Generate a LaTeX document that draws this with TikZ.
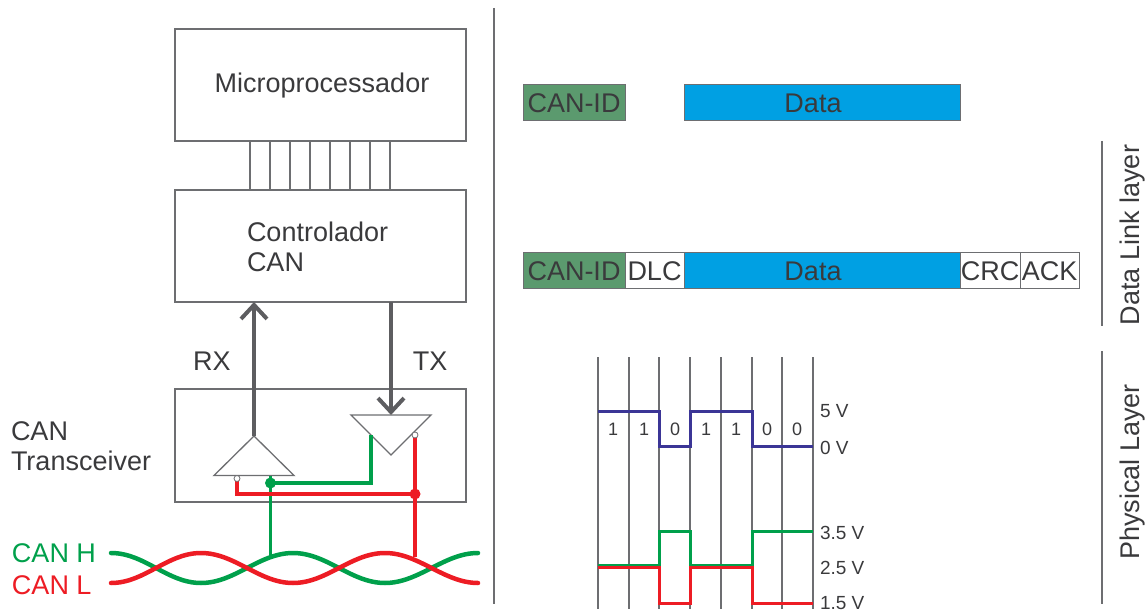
\documentclass[tikz,border=0pt]{standalone}
\usepackage{fontspec}
\usepackage{xcolor}
\usepackage{tikz}
\usetikzlibrary{positioning,arrows.meta}
\setmainfont{Liberation Sans}
\definecolor{textcolor}{HTML}{3a3a3c}
\definecolor{linecolor}{HTML}{6d6e71}
\definecolor{idcolor}{HTML}{5b9a6e}
\definecolor{datacolor}{HTML}{00a0e3}
\definecolor{canhcolor}{HTML}{00a04b}
\definecolor{canlcolor}{HTML}{ed1c24}
\definecolor{logiccolor}{HTML}{3b3596}

\begin{document}
\begin{tikzpicture}[
    x=1pt, y=-1pt,
    every node/.style={inner sep=0pt, outer sep=0pt, text=textcolor,
                       font=\fontsize{27}{30}\selectfont},
    block/.style={rectangle, draw=linecolor, line width=1.2pt,
                  minimum width=291pt, minimum height=112pt},
    field/.style={rectangle, draw=linecolor, line width=1pt,
                  minimum height=36pt},
    idfield/.style={field, fill=idcolor, minimum width=102pt},
    datafield/.style={field, fill=datacolor, minimum width=276pt},
    small/.style={font=\fontsize{19}{22}\selectfont},
    bit/.style={font=\fontsize{18}{20}\selectfont},
    rule/.style={draw=linecolor, line width=1.3pt},
    signal/.style={draw=linecolor!85!black, line width=4pt,
                   -{Straight Barb[length=14pt,width=26pt]}},
    canh/.style={draw=canhcolor, line width=3.5pt},
    canl/.style={draw=canlcolor, line width=3.5pt},
    twist/.style={line width=4.5pt, line cap=round},
    wave/.style={line width=3pt}
]
\useasboundingbox (0,0) rectangle (1148,612);

% left side
\node[block] (micro) at (320.5,85) {};
\node at (322,86) {Microprocessador};
\node[block] (ctrl) at (320.5,246) {};
\node[anchor=west, align=left] at (247,246.5) {Controlador\\CAN};
\node[block, minimum height=113pt] (trans) at (320.5,445.5) {};
\node[anchor=west, align=left] (transtext) at (11,446) {CAN\\Transceiver};

\foreach \x in {250,270,290,310,330,350,370,390}
    \draw[rule] (\x,141) -- (\x,190);

\coordinate (rxtip) at (254,436);
\coordinate (rxleft) at (214,475.5);
\coordinate (rxright) at (294,475.5);
\coordinate (txtip) at (391,455);
\coordinate (txleft) at (351,415);
\coordinate (txright) at (431,415);
\draw[rule, fill=white] (rxtip) -- (rxleft) -- (rxright) -- cycle;
\draw[rule, fill=white] (txtip) -- (txleft) -- (txright) -- cycle;

\draw[signal] (rxtip) -- (rxtip |- ctrl.south);
\draw[signal] (ctrl.south -| txtip) -- (txleft -| txtip);
\node (rx) at (212,361) {RX};
\node (tx) at (430,361) {TX};

% twisted pair
\node[anchor=west, text=canhcolor] (hlabel) at (12,553) {CAN H};
\node[anchor=west, text=canlcolor] (llabel) at (12,585) {CAN L};
\draw[twist, canhcolor] (111,553) .. controls (145,553) and (167,583) .. (201,583)
    .. controls (235,583) and (259,553) .. (293,553)
    .. controls (327,553) and (351,583) .. (385,583)
    .. controls (419,583) and (444,553) .. (478,553);
\draw[twist, canlcolor] (111,583) .. controls (145,583) and (167,553) .. (201,553)
    .. controls (235,553) and (259,583) .. (293,583)
    .. controls (327,583) and (351,553) .. (385,553)
    .. controls (419,553) and (444,583) .. (478,583);

\coordinate (hjoin) at (270.5,483);
\coordinate (hbus) at (270.5,556);
\coordinate (ljoin) at (415,494);
\coordinate (lbus) at (415,557);
\coordinate (rxminus) at (237,478.5);
\coordinate (txminus) at (415,435);
\coordinate (txplus) at (371,435);

\draw[canh] (txplus) |- (hjoin);
\draw[canh] (hjoin |- rxright) -- (hbus);
\draw[canl] (rxminus) |- (ljoin);
\draw[canl] (txminus) -- (lbus);
\fill[canhcolor] (hjoin) circle (5.5pt);
\fill[canlcolor] (ljoin) circle (5.5pt);
\draw[rule, line width=.8pt, fill=white] (rxminus) circle (3pt);
\draw[rule, line width=.8pt, fill=white] (txminus) circle (3pt);

\draw[rule] (494,8) -- (494,604);

% frame
\node[idfield] (id1) at (574,103) {CAN-ID};
\node[datafield, right=59pt of id1] (data1) {};
\node[xshift=-9pt] (datatext1) at (data1) {Data};
\node[idfield] (id2) at (574,271) {CAN-ID};
\node[field, minimum width=59pt, fill=white, right=0pt of id2] (dlc) {DLC};
\node[datafield, right=0pt of dlc] (data2) {};
\node[xshift=-9pt] (datatext2) at (data2) {Data};
\node[field, minimum width=60pt, fill=white, right=0pt of data2] (crc) {CRC};
\node[field, minimum width=59pt, fill=white, right=0pt of crc] (ack) {ACK};

\draw[rule] (1102,141) -- (1102,326);
\draw[rule] (1102,351) -- (1102,604);
\node[rotate=90] (linklayer) at (1133,235) {Data Link layer};
\node[rotate=90] (physlayer) at (1133,472) {Physical Layer};

% bit timing
\foreach \x in {598,629,659,690,721,752,782,813}
    \draw[rule] (\x,357) -- (\x,609);
\foreach \x/\b in {613/1,644/1,675/0,706/1,736/1,767/0,797/0}
    \node[bit] at (\x,429) {\b};
\draw[wave, logiccolor] (598,411) -- (659,411) -- (659,446) -- (690,446) -- (690,411)
    -- (752,411) -- (752,446) -- (813,446);
\draw[wave, canhcolor] (598,565.5) -- (659,565.5) -- (659,531) -- (690,531) -- (690,565.5)
    -- (752,565.5) -- (752,531) -- (813,531);
\draw[wave, canlcolor] (598,567) -- (659,567) -- (659,603) -- (690,603) -- (690,567)
    -- (752,567) -- (752,603) -- (813,603);
\node[small, anchor=west] (five) at (820,411) {5 V};
\node[small, anchor=west] (zero) at (820,448) {0 V};
\node[small, anchor=west] (high) at (820,533) {3.5 V};
\node[small, anchor=west] (mid) at (820,568) {2.5 V};
\node[small, anchor=west] (low) at (820,603) {1.5 V};
\end{tikzpicture}
\end{document}
